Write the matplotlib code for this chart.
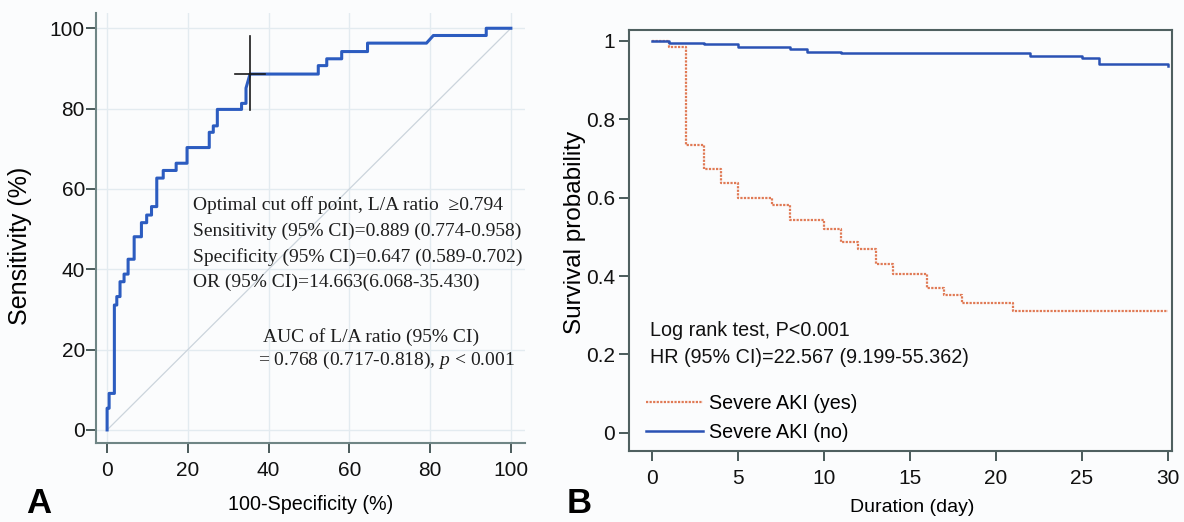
import matplotlib
matplotlib.use("Agg")
import matplotlib.pyplot as plt

plt.rcParams['font.family'] = ['Liberation Sans', 'DejaVu Sans']
plt.rcParams['mathtext.fontset'] = 'custom'
plt.rcParams['mathtext.rm'] = 'Liberation Serif'
plt.rcParams['mathtext.it'] = 'Liberation Serif:italic'

# ---- panel A: ROC curve of L/A ratio (vertices) ----
roc_fpr = [0, 0, 0.5, 0.5, 1.8, 1.8, 2.4, 2.4, 3.2, 3.2, 4.2, 4.2, 5.2, 5.2,
           6.7, 6.7, 8.5, 8.5, 9.8, 9.8, 11.0, 11.0, 12.3, 12.3, 13.9, 13.9,
           17.1, 17.1, 19.8, 19.8, 25.3, 25.3, 26.3, 26.3, 27.3, 27.3,
           33.3, 33.3, 34.4, 34.4, 35.4, 52.3, 52.3, 54.4, 54.4, 58.1, 58.1,
           64.5, 64.5, 79.1, 80.8, 93.9, 93.9, 100]
roc_tpr = [0, 5.4, 5.4, 9.1, 9.1, 31.1, 31.1, 33.2, 33.2, 36.9, 36.9, 38.8,
           38.8, 42.5, 42.5, 48.1, 48.1, 51.6, 51.6, 53.5, 53.5, 55.6, 55.6,
           62.7, 62.7, 64.6, 64.6, 66.4, 66.4, 70.3, 70.3, 74.1, 74.1, 75.7,
           75.7, 79.8, 79.8, 81.3, 81.3, 85.1, 88.6, 88.6, 90.7, 90.7, 92.4,
           92.4, 94.2, 94.2, 96.3, 96.3, 98.2, 98.2, 100, 100]
cut_x, cut_y = 35.4, 88.6
cross_h = [31.7, 39.1]
cross_v = [79.7, 98.1]
roc_ticks = [0, 20, 40, 60, 80, 100]

roc_text = ["Optimal cut off point, L/A ratio  \u22650.794",
            "Sensitivity (95% CI)=0.889 (0.774-0.958)",
            "Specificity (95% CI)=0.647 (0.589-0.702)",
            "OR (95% CI)=14.663(6.068-35.430)"]
auc_text = ["AUC of L/A ratio (95% CI)",
            r"= 0.768 (0.717-0.818), $\it{p}$ < 0.001"]

# ---- panel B: Kaplan-Meier curves ----
km_yes_t = [0, 1, 2, 3, 4, 5, 7, 8, 10, 11, 12, 13, 14, 16, 17, 18, 21, 30]
km_yes_s = [1.0, 0.984, 0.734, 0.672, 0.638, 0.598, 0.581, 0.543, 0.520,
            0.487, 0.468, 0.430, 0.405, 0.369, 0.352, 0.330, 0.312, 0.312]
km_no_t = [0, 1, 3, 5, 8, 9, 11, 22, 25, 26, 30]
km_no_s = [1.0, 0.993, 0.991, 0.983, 0.979, 0.972, 0.969, 0.961, 0.955,
           0.940, 0.934]
km_xticks = [0, 5, 10, 15, 20, 25, 30]
km_yticks = [0, 0.2, 0.4, 0.6, 0.8, 1.0]
km_ylabels = ['0', '0.2', '0.4', '0.6', '0.8', '1']

bg = '#fbfcfd'
blue = '#2c5cc0'
orange = '#e07a55'

fig = plt.figure(figsize=(11.84, 5.22), dpi=100, facecolor=bg)
W, H = 1184, 522

# ---------------- A ----------------
axA = fig.add_axes([96 / W, 1 - 443 / H, (525 - 96) / W, (443 - 13) / H])
axA.set_facecolor(bg)
axA.set_xlim(-2.75, 103.5)
axA.set_ylim(-3.25, 103.8)
for v in roc_ticks:
    axA.axvline(v, color='#e3ebf0', lw=1, zorder=0)
    axA.axhline(v, color='#e3ebf0', lw=1, zorder=0)
axA.plot([0, 100], [0, 100], color='#cbd4dc', lw=0.9, zorder=1)
axA.plot(roc_fpr, roc_tpr, color=blue, lw=2.2, zorder=3)
axA.plot(cross_h, [cut_y, cut_y], color='#1a1a1a', lw=1.2, zorder=4)
axA.plot([cut_x, cut_x], cross_v, color='#1a1a1a', lw=1.2, zorder=4)
axA.set_xticks(roc_ticks)
axA.set_yticks(roc_ticks)
for s in ['top', 'right']:
    axA.spines[s].set_visible(False)
for s in ['left', 'bottom']:
    axA.spines[s].set_color('#6f8585')
    axA.spines[s].set_linewidth(1.5)
axA.tick_params(axis='both', colors='#4a5a5a', labelcolor='#111111',
                labelsize=15, length=7, width=1.4)
axA.tick_params(axis='y', pad=1)
axA.tick_params(axis='x', pad=6)

serif = ['Liberation Serif', 'DejaVu Serif']
for i, t in enumerate(roc_text):
    axA.text(21.3, 56.0 - 6.45 * i, t, family=serif, fontsize=14,
             color='#1e1e1e', va='center', ha='left')
axA.text(38.6, 23.2, auc_text[0], family=serif, fontsize=14,
         color='#1e1e1e', va='center', ha='left')
axA.text(37.4, 17.4, auc_text[1], family=serif, fontsize=14,
         color='#1e1e1e', va='center', ha='left')

fig.text(20 / W, 1 - 246 / H, 'Sensitivity (%)', rotation=90,
         ha='center', va='center', fontsize=18)
fig.text(311 / W, 1 - 505 / H, '100-Specificity (%)', ha='center',
         va='center', fontsize=14.2)
fig.text(26 / W, 1 - 513 / H, 'A', ha='left', va='baseline',
         fontsize=25, fontweight='bold')

# ---------------- B ----------------
axB = fig.add_axes([629 / W, 1 - 451 / H, (1172 - 629) / W, (451 - 30) / H])
axB.set_facecolor(bg)
axB.set_xlim(-1.34, 30.23)
axB.set_ylim(-0.046, 1.027)
axB.plot(km_yes_t, km_yes_s, drawstyle='steps-post', color=orange,
         lw=1.6, ls=(0, (1, 0.6)), label='Severe AKI (yes)', zorder=2)
axB.plot(km_no_t, km_no_s, drawstyle='steps-post', color='#2a52b4',
         lw=1.8, label='Severe AKI (no)', zorder=3)
axB.set_xticks(km_xticks)
axB.set_yticks(km_yticks)
axB.set_yticklabels(km_ylabels)
for s in axB.spines.values():
    s.set_color('#4f6060')
    s.set_linewidth(1.5)
axB.tick_params(axis='both', colors='#4a5a5a', labelcolor='#111111',
                labelsize=15, length=7, width=1.4)
axB.tick_params(axis='y', pad=3)
axB.tick_params(axis='x', pad=6)

axB.text(-0.1, 0.262, 'Log rank test, P<0.001', fontsize=14.2,
         va='center', ha='left', color='#111111')
axB.text(-0.1, 0.192, 'HR (95% CI)=22.567 (9.199-55.362)', fontsize=14.2,
         va='center', ha='left', color='#111111')
axB.legend(loc='lower left', bbox_to_anchor=(0.02, 0.008), frameon=False,
           fontsize=14.2, handlelength=2.9, handletextpad=0.3,
           labelspacing=0.5, borderaxespad=0.1, borderpad=0.2)

fig.text(575 / W, 1 - 232 / H, 'Survival probability', rotation=90,
         ha='center', va='center', fontsize=17.5)
fig.text(912 / W, 1 - 507 / H, 'Duration (day)', ha='center',
         va='center', fontsize=14)
fig.text(567 / W, 1 - 513 / H, 'B', ha='left', va='baseline',
         fontsize=25, fontweight='bold')

fig.savefig('out.png', dpi=100, facecolor=bg)
